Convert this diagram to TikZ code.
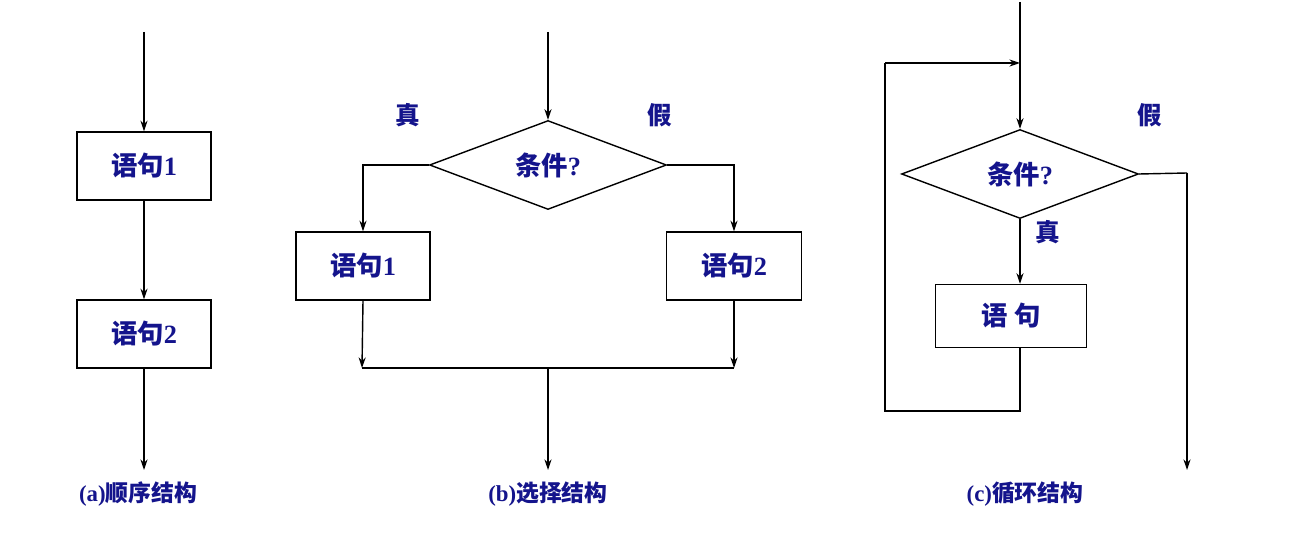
\documentclass[tikz,border=0pt]{standalone}
\usepackage{fontspec}
\setmainfont{Liberation Serif}
\newfontfamily\cjk{Noto Sans CJK SC}
\usetikzlibrary{shapes.geometric,arrows.meta}
\definecolor{tb}{RGB}{20,20,140}
\begin{document}
\begin{tikzpicture}[x=0.02cm,y=-0.02cm,
  box/.style={draw,thick,inner sep=0,text=tb,font=\bfseries\fontsize{15}{18}\selectfont},
  dia/.style={draw,thick,diamond,inner sep=0,aspect=2.66,minimum width=4.74cm,minimum height=1.78cm,text=tb,font=\bfseries\fontsize{15}{18}\selectfont},
  lbl/.style={text=tb,font=\bfseries\fontsize{13}{16}\selectfont},
  tf/.style={text=tb,font=\bfseries\fontsize{14}{16}\selectfont},
  ar/.style={thick,-{Stealth[length=6pt,width=4pt]}},
  ln/.style={thick}]
\useasboundingbox (0,0) rectangle (1301,536);
% (a)
\coordinate (a0) at (144,32);
\node[box,minimum width=2.68cm,minimum height=1.36cm] (a1) at (144,166) {{\cjk\bfseries 语句}1};
\node[box,minimum width=2.68cm,minimum height=1.36cm] (a2) at (144,334) {{\cjk\bfseries 语句}2};
\coordinate (a3) at (144,470);
\draw[ar] (a0) -- (a1.north);
\draw[ar] (a1.south) -- (a2.north);
\draw[ar] (a2.south) -- (a3);
\node[lbl] (la) at (138,494) {(a){\cjk\bfseries 顺序结构}};
% (b)
\coordinate (b0) at (548,32);
\node[dia] (bd) at (548,165) {{\cjk\bfseries 条件}?};
\node[box,minimum width=2.68cm,minimum height=1.36cm] (b1) at (363,266) {{\cjk\bfseries 语句}1};
\node[box,minimum width=2.7cm,minimum height=1.36cm] (b2) at (734,266) {{\cjk\bfseries 语句}2};
\coordinate (bl) at (362,368);
\coordinate (br) at (734,368);
\coordinate (bm) at (548,368);
\coordinate (be) at (548,470);
\draw[ar] (b0) -- (bd.north);
\draw[ar] (bd.west) -| (b1.north);
\draw[ar] (bd.east) -| (b2.north);
\draw[ar] (b1.south) -- (bl);
\draw[ar] (b2.south) -- (br);
\draw[ln] (bl) -- (br);
\draw[ar] (bm) -- (be);
\node[tf] (bt) at (408,115) {\cjk\bfseries 真};
\node[tf] (bf) at (660,115) {\cjk\bfseries 假};
\node[lbl] (lb) at (548,494) {(b){\cjk\bfseries 选择结构}};
% (c)
\coordinate (c0) at (1020,2);
\node[dia] (cd) at (1020,174) {{\cjk\bfseries 条件}?};
\node[box,minimum width=3.02cm,minimum height=1.26cm] (c1) at (1011,316) {\cjk\bfseries 语 句};
\coordinate (cb) at (1020,411);
\coordinate (cl) at (885,411);
\coordinate (ct) at (885,63);
\coordinate (cj) at (1020,63);
\coordinate (cr) at (1187,173);
\coordinate (ce) at (1187,470);
\draw[ar] (c0) -- (cd.north);
\draw[ar] (cd.south) -- (c1.north -| cd.south);
\draw[ln] (c1.south -| cb) -- (cb) -- (cl) -- (ct);
\draw[ar] (ct) -- (cj);
\draw[ln] (cd.east) -- (cr);
\draw[ar] (cr) -- (ce);
\node[tf] (cf) at (1150,115) {\cjk\bfseries 假};
\node[tf] (ct2) at (1048,232) {\cjk\bfseries 真};
\node[lbl] (lc) at (1025,494) {(c){\cjk\bfseries 循环结构}};
\end{tikzpicture}
\end{document}
